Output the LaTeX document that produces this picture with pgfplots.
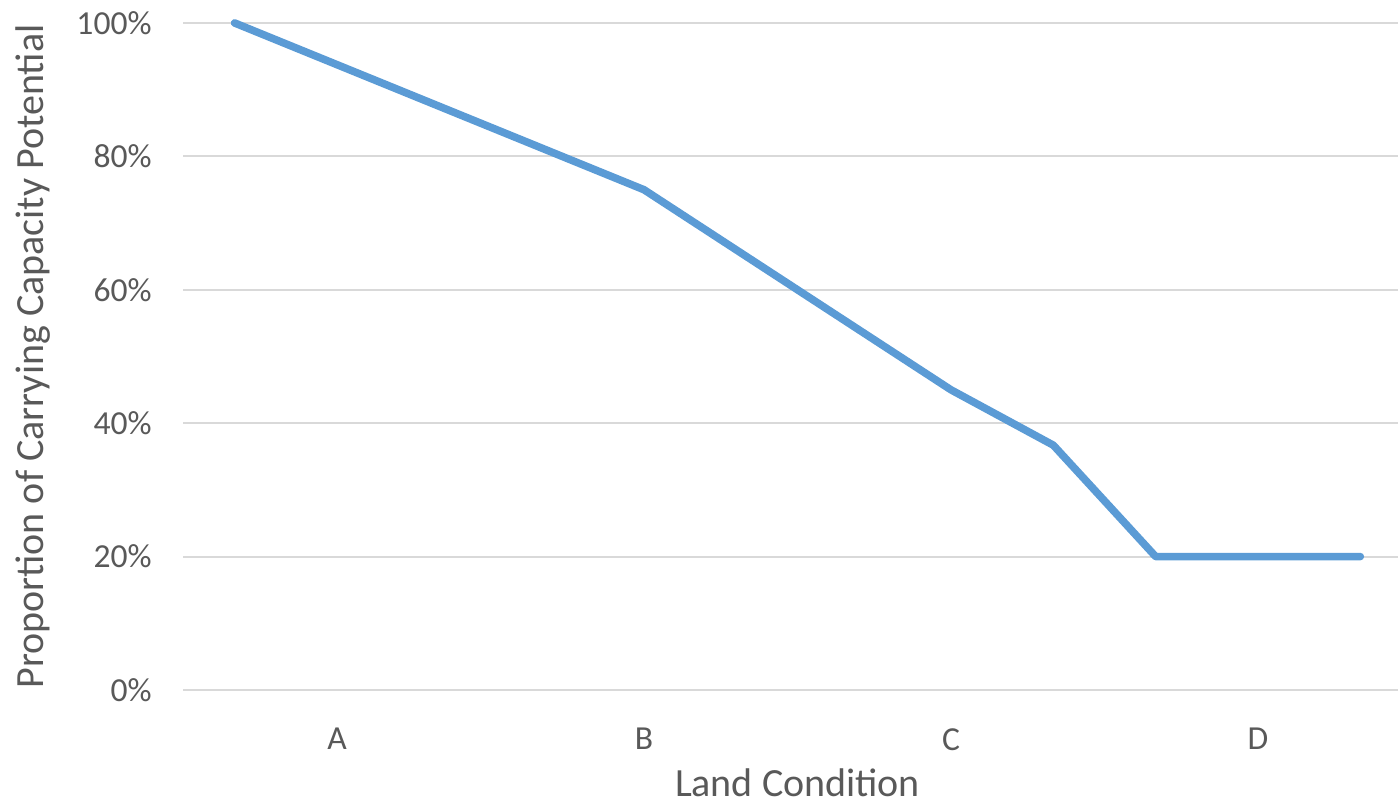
\documentclass[border=0pt]{standalone}
\usepackage{pgfplots}
\pgfplotsset{compat=1.18}
\usepackage{fontspec}
\setmainfont{Carlito}
\definecolor{lineblue}{HTML}{5B9BD5}
\definecolor{gridgray}{HTML}{D9D9D9}
\definecolor{textgray}{HTML}{595959}
\begin{document}
\begin{tikzpicture}
\begin{axis}[
  name=main,
  scale only axis,
  width=607.25pt, height=333.5pt,
  xmin=-0.5, xmax=3.456,
  ymin=0, ymax=100,
  xtick={0,1,2,3}, xticklabels={A,B,C,D},
  ytick={0,20,40,60,80,100},
  yticklabels={0\%,20\%,40\%,60\%,80\%,100\%},
  ymajorgrids, grid style={gridgray, line width=1pt},
  axis line style={draw=none},
  major tick length=0pt,
  tick label style={font=\fontsize{16.8}{20}\selectfont, text=textgray, inner sep=0pt},
  yticklabel style={anchor=east, xshift=-15.75pt},
  xticklabel style={anchor=north, yshift=-19pt},
  xlabel={Land Condition},
  ylabel={Proportion of Carrying Capacity Potential},
  label style={font=\fontsize{20}{24}\selectfont, text=textgray, inner sep=0pt},
  xlabel style={at={(axis description cs:0.5056,-0.1595)}, anchor=base},
  ylabel style={at={(axis description cs:-0.1235,0.5)}, anchor=center},
  clip=false,
]
% carrying capacity against land condition
\addplot[lineblue, line width=3.8pt, line cap=round, line join=round]
  coordinates {(-0.3333,100) (1,75) (2,45) (2.3333,36.7) (2.6667,20) (3.3333,20)};
\end{axis}
\pgfresetboundingbox
\path[use as bounding box] ([xshift=-91.75pt, yshift=-58pt]main.south west) rectangle ([yshift=11.5pt]main.north east);
\end{tikzpicture}
\end{document}
